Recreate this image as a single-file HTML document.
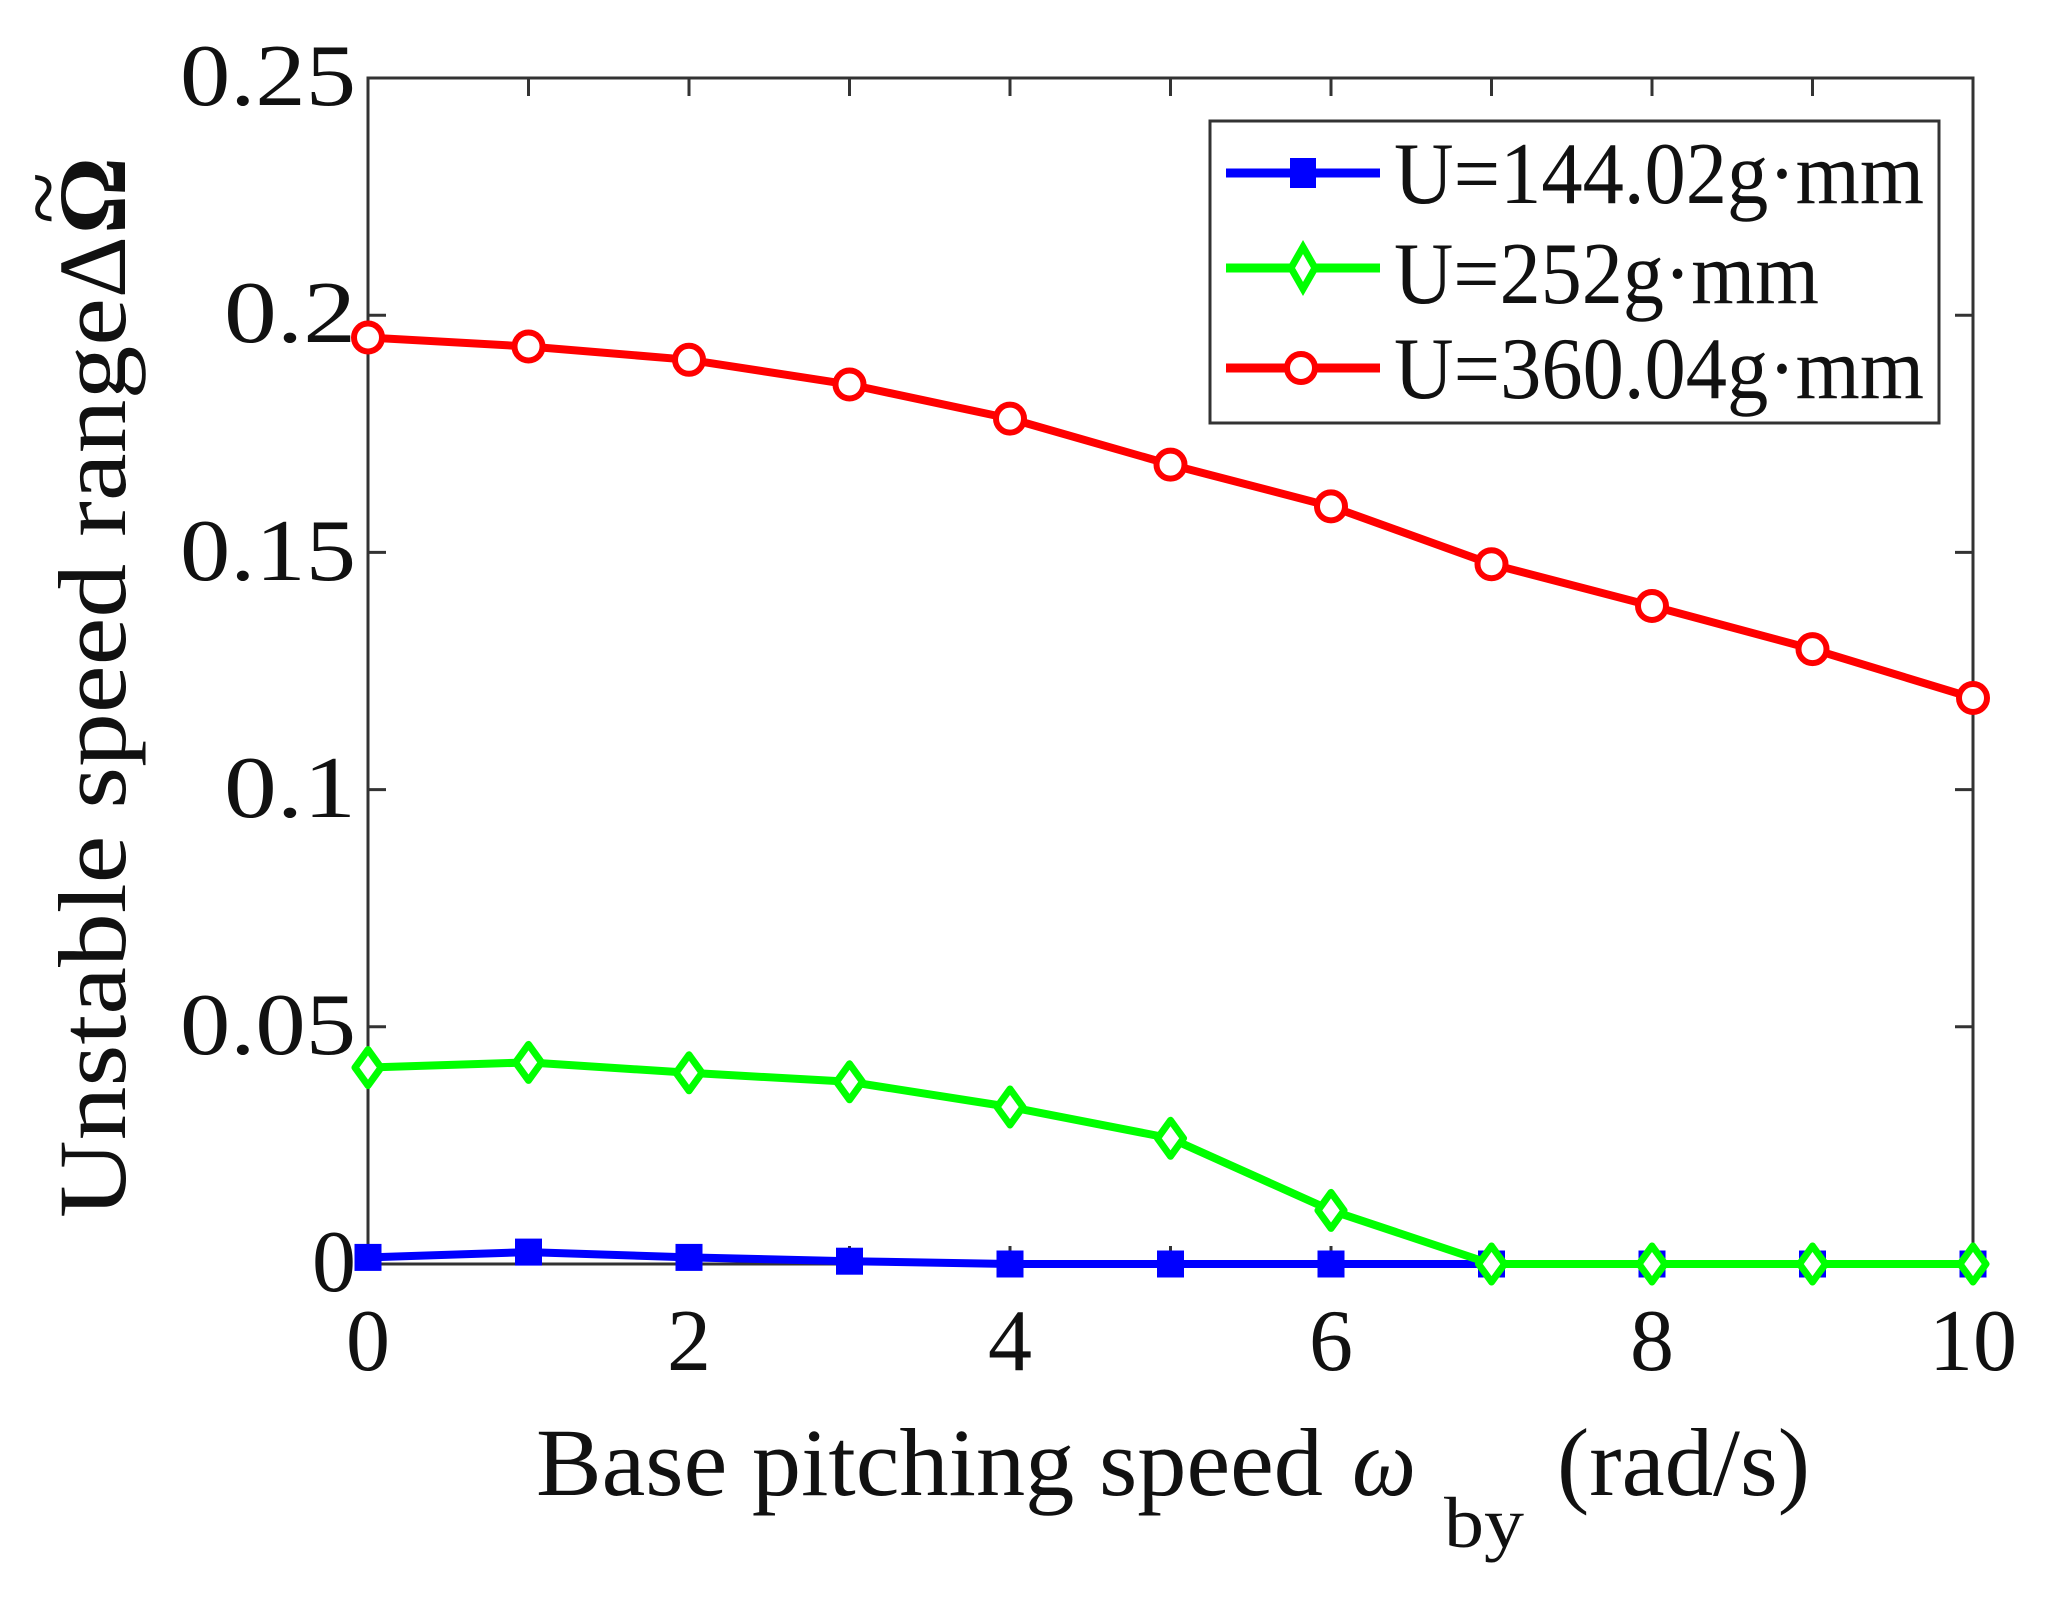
<!DOCTYPE html>
<html><head><meta charset="utf-8"><style>html,body{margin:0;padding:0;background:#fff}svg{display:block}</style></head>
<body>
<svg width="2054" height="1602" viewBox="0 0 2054 1602" xmlns="http://www.w3.org/2000/svg" font-family="Liberation Serif, serif">
<rect width="2054" height="1602" fill="#fff"/>
<g stroke="#333" stroke-width="3" fill="none">
<rect x="368" y="78" width="1605" height="1186"/>
<path d="M528.5,1264v-18M689,1264v-18M849.5,1264v-18M1010,1264v-18M1170.5,1264v-18M1331,1264v-18M1491.5,1264v-18M1652,1264v-18M1812.5,1264v-18
M528.5,78v18M689,78v18M849.5,78v18M1010,78v18M1170.5,78v18M1331,78v18M1491.5,78v18M1652,78v18M1812.5,78v18
M368,1026.8h18M368,789.6h18M368,552.4h18M368,315.2h18
M1973,1026.8h-18M1973,789.6h-18M1973,552.4h-18M1973,315.2h-18"/>
</g>
<g font-size="88" fill="#111" text-anchor="end">
<text x="356" y="1291">0</text>
<text x="356" y="1054" textLength="176" lengthAdjust="spacingAndGlyphs">0.05</text>
<text x="356" y="817" textLength="132" lengthAdjust="spacingAndGlyphs">0.1</text>
<text x="356" y="580" textLength="176" lengthAdjust="spacingAndGlyphs">0.15</text>
<text x="356" y="342" textLength="132" lengthAdjust="spacingAndGlyphs">0.2</text>
<text x="356" y="105" textLength="176" lengthAdjust="spacingAndGlyphs">0.25</text>
</g>
<g font-size="88" fill="#111" text-anchor="middle">
<text x="368" y="1370">0</text><text x="689" y="1370">2</text><text x="1010" y="1370">4</text>
<text x="1331" y="1370">6</text><text x="1652" y="1370">8</text><text x="1973" y="1370">10</text>
</g>
<text x="536" y="1495" font-size="96" fill="#111" textLength="787" lengthAdjust="spacingAndGlyphs">Base pitching speed</text>
<text x="1352" y="1495" font-size="96" fill="#111" font-style="italic" textLength="64" lengthAdjust="spacingAndGlyphs">ω</text>
<text x="1444" y="1547" font-size="72" fill="#111" textLength="80" lengthAdjust="spacingAndGlyphs">by</text>
<text x="1557" y="1495" font-size="96" fill="#111" textLength="253" lengthAdjust="spacingAndGlyphs">(rad/s)</text>
<g transform="translate(125,1218) rotate(-90)">
<text x="0" y="0" font-size="96" fill="#111" textLength="920" lengthAdjust="spacingAndGlyphs">Unstable speed range</text>
<text x="920" y="0" font-size="96" fill="#111">Δ</text>
<text x="984" y="0" font-size="96" fill="#111" font-weight="bold">Ω</text>
<text x="994" y="-50" font-size="96" fill="#111">~</text>
</g>
<!-- red -->
<g stroke="#f00" stroke-width="8" fill="none">
<polyline points="368,337.5 528.5,346.5 689,359.8 849.5,384.5 1010,418.6 1170.5,464.6 1331,506.4 1491.5,564.2 1652,606 1812.5,649.1 1973,698"/>
<g stroke-width="6" fill="#fff">
<circle cx="368" cy="337.5" r="14"/><circle cx="528.5" cy="346.5" r="14"/><circle cx="689" cy="359.8" r="14"/><circle cx="849.5" cy="384.5" r="14"/><circle cx="1010" cy="418.6" r="14"/><circle cx="1170.5" cy="464.6" r="14"/><circle cx="1331" cy="506.4" r="14"/><circle cx="1491.5" cy="564.2" r="14"/><circle cx="1652" cy="606" r="14"/><circle cx="1812.5" cy="649.1" r="14"/><circle cx="1973" cy="698" r="14"/>
</g></g>
<!-- blue -->
<g stroke="#00f" stroke-width="8" fill="none">
<polyline points="368,1257.4 528.5,1252.1 689,1257.4 849.5,1261.2 1010,1264 1170.5,1264 1331,1264 1491.5,1264"/>
<g fill="#00f" stroke-width="3">
<rect x="356" y="1245.4" width="24" height="24"/><rect x="516.5" y="1240.1" width="24" height="24"/><rect x="677" y="1245.4" width="24" height="24"/><rect x="837.5" y="1249.2" width="24" height="24"/><rect x="998" y="1252" width="24" height="24"/><rect x="1158.5" y="1252" width="24" height="24"/><rect x="1319" y="1252" width="24" height="24"/><rect x="1479.5" y="1252" width="24" height="24"/><rect x="1640" y="1252" width="24" height="24"/><rect x="1800.5" y="1252" width="24" height="24"/><rect x="1961" y="1252" width="24" height="24"/>
</g></g>
<!-- green -->
<g stroke="#0f0" stroke-width="8" fill="none" stroke-linejoin="round">
<polyline points="368,1067.6 528.5,1062.4 689,1072.8 849.5,1081.8 1010,1107 1170.5,1138.3 1331,1210.4 1491.5,1264 1652,1264 1812.5,1264 1973,1264"/>
<g fill="#fff" stroke-width="7">
<path d="M368,1049.6l13,18l-13,18l-13,-18z"/><path d="M528.5,1044.4l13,18l-13,18l-13,-18z"/><path d="M689,1054.8l13,18l-13,18l-13,-18z"/><path d="M849.5,1063.8l13,18l-13,18l-13,-18z"/><path d="M1010,1089l13,18l-13,18l-13,-18z"/><path d="M1170.5,1120.3l13,18l-13,18l-13,-18z"/><path d="M1331,1192.4l13,18l-13,18l-13,-18z"/><path d="M1491.5,1246l13,18l-13,18l-13,-18z"/><path d="M1652,1246l13,18l-13,18l-13,-18z"/><path d="M1812.5,1246l13,18l-13,18l-13,-18z"/><path d="M1973,1246l13,18l-13,18l-13,-18z"/>
</g></g>
<!-- legend -->
<rect x="1210" y="121" width="729" height="302" fill="#fff" stroke="#333" stroke-width="3"/>
<line x1="1226" y1="173" x2="1380" y2="173" stroke="#00f" stroke-width="9"/>
<rect x="1290" y="158" width="26" height="30" fill="#00f"/>
<line x1="1226" y1="268" x2="1380" y2="268" stroke="#0f0" stroke-width="9"/>
<path d="M1303,247l12,21l-12,21l-12,-21z" fill="#fff" stroke="#0f0" stroke-width="7"/>
<line x1="1226" y1="368" x2="1380" y2="368" stroke="#f00" stroke-width="9"/>
<circle cx="1301" cy="368" r="14" fill="#fff" stroke="#f00" stroke-width="6"/>
<g font-size="88" fill="#111">
<text x="1394" y="203" textLength="530" lengthAdjust="spacingAndGlyphs">U=144.02g·mm</text>
<text x="1394" y="303" textLength="425" lengthAdjust="spacingAndGlyphs">U=252g·mm</text>
<text x="1394" y="398" textLength="530" lengthAdjust="spacingAndGlyphs">U=360.04g·mm</text>
</g>
</svg>
</body></html>
